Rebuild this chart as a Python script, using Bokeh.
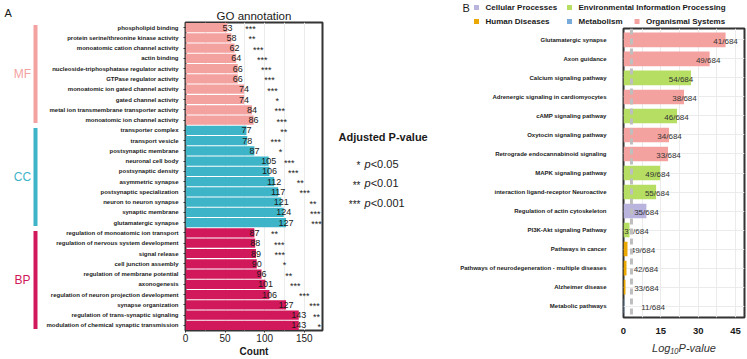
from bokeh.plotting import figure
from bokeh.models import Range1d, FixedTicker, ColumnDataSource, Span
from bokeh.layouts import row, column
from bokeh.embed import file_html
from bokeh.resources import INLINE
from bokeh.core.properties import value

FONT = "Liberation Sans"

# ---------------- Panel A data (GO annotation) ----------------
go_terms = [
    "phospholipid binding", "protein serine/threonine kinase activity",
    "monoatomic cation channel activity", "actin binding",
    "nucleoside-triphosphatase regulator activity", "GTPase regulator activity",
    "monoatomic ion gated channel activity", "gated channel activity",
    "metal ion transmembrane transporter activity", "monoatomic ion channel activity",
    "transporter complex", "transport vesicle", "postsynaptic membrane",
    "neuronal cell body", "postsynaptic density", "asymmetric synapse",
    "postsynaptic specialization", "neuron to neuron synapse", "synaptic membrane",
    "glutamatergic synapse",
    "regulation of monoatomic ion transport", "regulation of nervous system development",
    "signal release", "cell junction assembly", "regulation of membrane potential",
    "axonogenesis", "regulation of neuron projection development", "synapse organization",
    "regulation of trans-synaptic signaling", "modulation of chemical synaptic transmission",
]
go_counts = [53, 58, 62, 64, 66, 66, 74, 74, 84, 86,
             77, 78, 87, 105, 106, 112, 117, 121, 124, 127,
             87, 88, 89, 90, 96, 101, 106, 127, 143, 143]
go_groups = ["MF"] * 10 + ["CC"] * 10 + ["BP"] * 10
go_stars = ["***", "**", "***", "***", "***", "***", "***", "*", "***", "***",
            "**", "***", "*", "***", "***", "**", "***", "**", "***", "***",
            "**", "***", "***", "*", "**", "***", "***", "***", "**", "*"]
go_star_pos = [82, 84, 92, 97, 102, 106, 110, 116, 119, 121.5,
               124, 114, 120, 131, 136, 145, 150.5, 161, 164, 165.5,
               112.5, 118.5, 119, 125, 130.5, 138.5, 150, 163, 165.5, 169]
group_names = ["MF", "CC", "BP"]
group_colors = {"MF": "#F4A29F", "CC": "#3DB4C8", "BP": "#D1185A"}
count_ticks = [0, 50, 100, 150]

legend_stars = ["*", "**", "***"]
legend_thresholds = ["<0.05", "<0.01", "<0.001"]

# ---------------- Panel B data (KEGG) ----------------
kegg_terms = [
    "Glutamatergic synapse", "Axon guidance", "Calcium signaling pathway",
    "Adrenergic signaling in cardiomyocytes", "cAMP signaling pathway",
    "Oxytocin signaling pathway", "Retrograde endocannabinoid signaling",
    "MAPK signaling pathway", "interaction ligand-receptor Neuroactive",
    "Regulation of actin cytoskeleton", "PI3K-Akt signaling Pathway",
    "Pathways in cancer", "Pathways of neurodegeneration - multiple diseases",
    "Alzheimer disease", "Metabolic pathways",
]
kegg_logp = [41.0, 34.6, 27.1, 24.3, 21.5, 18.3, 17.9, 14.7, 13.1, 9.2, 2.4, 1.6, 1.2, 0.8, 0.3]
kegg_hits = [41, 49, 54, 38, 46, 34, 33, 49, 55, 35, 37, 49, 42, 33, 11]
kegg_total = 684
kegg_label_pos = [41, 34, 23.1, 24.5, 21.3, 18.5, 18.1, 13.7, 13.5, 9.2, 5.2, 7.8, 9.0, 9.2, 11.9]
kegg_class = ["Organismal Systems", "Organismal Systems", "Environmental Information Processing",
              "Organismal Systems", "Environmental Information Processing", "Organismal Systems",
              "Organismal Systems", "Environmental Information Processing",
              "Environmental Information Processing", "Cellular Processes",
              "Environmental Information Processing", "Human Diseases", "Human Diseases",
              "Human Diseases", "Metabolism"]
class_names = ["Cellular Processes", "Environmental Information Processing",
               "Human Diseases", "Metabolism", "Organismal Systems"]
class_colors = {"Cellular Processes": "#B8B4DD",
                "Environmental Information Processing": "#B5DE62",
                "Human Diseases": "#EBA800",
                "Metabolism": "#78ABDA",
                "Organismal Systems": "#F4A29F"}
threshold = 3.2
logp_ticks = [0, 15, 30, 45]

TXT = "#1a1a1a"
GRID = "#EBEBEB"
FRAME = "#333333"

# ================= Panel A =================
n = len(go_terms)
go_y = [n - i for i in range(n)]
yr_a = Range1d(0.5, n + 0.5)

src_a = ColumnDataSource(dict(
    y=go_y, count=go_counts, label=[str(c) for c in go_counts],
    color=[group_colors[g] for g in go_groups], stars=go_stars, star_x=go_star_pos))

pa = figure(width=287, height=359, x_range=Range1d(0, 173), y_range=yr_a,
            output_backend="svg", toolbar_location=None, title="GO annotation",
            min_border_left=145, min_border_right=5, min_border_top=22, min_border_bottom=28)
pa.frame_align = False
pa.title.align = "center"
pa.title.text_font = FONT
pa.title.text_font_size = "11.5px"
pa.title.text_font_style = "normal"
pa.title.text_color = TXT
pa.title.standoff = 2
pa.title.offset = -6
pa.outline_line_color = FRAME
pa.outline_line_width = 2

pa.hbar(y="y", left=0, right="count", height=0.9, fill_color="color",
        line_color=None, source=src_a)
pa.text(x="count", y="y", text="label", text_align="center", text_baseline="middle",
        text_font=value(FONT), text_font_size="9px", text_color=TXT, source=src_a)
pa.text(x="star_x", y="y", text="stars", text_align="center", text_baseline="middle",
        y_offset=1.5, text_font=value(FONT), text_font_size="9px", text_color=TXT,
        source=src_a)

pa.xgrid.ticker = FixedTicker(ticks=[25, 50, 75, 100, 125, 150, 175])
pa.xgrid.grid_line_color = GRID
pa.ygrid.visible = False

pa.xaxis.ticker = FixedTicker(ticks=count_ticks)
pa.xaxis.axis_label = "Count"
pa.xaxis.axis_label_text_font = FONT
pa.xaxis.axis_label_text_font_style = "bold"
pa.xaxis.axis_label_text_font_size = "10px"
pa.xaxis.axis_label_text_color = TXT
pa.xaxis.axis_label_standoff = 1
pa.xaxis.major_label_text_font = FONT
pa.xaxis.major_label_text_font_size = "10px"
pa.xaxis.major_label_text_color = TXT
pa.xaxis.major_label_standoff = 1
pa.xaxis.major_tick_out = 2
pa.xaxis.major_tick_in = 0
pa.xaxis.minor_tick_line_color = None
pa.xaxis.axis_line_color = None
pa.xaxis.major_tick_line_color = FRAME

pa.yaxis.ticker = FixedTicker(ticks=go_y)
pa.yaxis.major_label_overrides = {y: t for y, t in zip(go_y, go_terms)}
pa.yaxis.major_label_text_font = FONT
pa.yaxis.major_label_text_font_style = "bold"
pa.yaxis.major_label_text_font_size = "6px"
pa.yaxis.major_label_text_color = TXT
pa.yaxis.major_label_standoff = 5
pa.yaxis.major_tick_out = 2
pa.yaxis.major_tick_in = 0
pa.yaxis.major_tick_line_color = FRAME
pa.yaxis.minor_tick_line_color = None
pa.yaxis.axis_line_color = None

# ================= Group strip (MF / CC / BP) =================
pg = figure(width=40, height=359, x_range=Range1d(0, 40), y_range=yr_a,
            output_backend="svg", toolbar_location=None, title="A",
            x_axis_type=None, y_axis_type=None,
            min_border_left=0, min_border_right=0, min_border_top=22, min_border_bottom=28)
pg.frame_align = False
pg.title.align = "left"
pg.title.offset = 4
pg.title.standoff = 8
pg.title.text_font = FONT
pg.title.text_font_size = "11px"
pg.title.text_font_style = "normal"
pg.title.text_color = TXT
pg.outline_line_color = None
pg.grid.visible = False

g_top, g_bot, g_mid, g_col = [], [], [], []
for g in group_names:
    ys = [y for y, gg in zip(go_y, go_groups) if gg == g]
    g_top.append(max(ys) + 0.25)
    g_bot.append(min(ys) - 0.25)
    g_mid.append((max(ys) + min(ys)) / 2)
    g_col.append(group_colors[g])
src_g = ColumnDataSource(dict(top=g_top, bottom=g_bot, mid=g_mid, color=g_col, name=group_names))
pg.quad(left=33, right=37, top="top", bottom="bottom", fill_color="color",
        line_color=None, source=src_g)
pg.text(x=22, y="mid", text="name", text_align="center", text_baseline="middle",
        text_color="color", text_font=value(FONT), text_font_size="12px", source=src_g)

# ================= Middle: adjusted p-value key =================
pm = figure(width=130, height=359, x_range=Range1d(0, 130), y_range=Range1d(359, 0),
            output_backend="svg", toolbar_location=None,
            x_axis_type=None, y_axis_type=None, min_border=0)
pm.frame_align = False
pm.outline_line_color = None
pm.grid.visible = False
pm.text(x=[11], y=[136], text=["Adjusted P-value"], text_baseline="middle",
        text_font=value(FONT), text_font_size="11px", text_font_style="bold", text_color=TXT)
key_y = [163 + 19.5 * i for i in range(len(legend_stars))]
pm.text(x=[33] * 3, y=key_y, text=legend_stars, text_align="right", text_baseline="middle",
        y_offset=2, text_font=value(FONT), text_font_size="10px", text_color=TXT)
pm.text(x=[37] * 3, y=key_y, text=["p"] * 3, text_baseline="middle",
        text_font=value(FONT), text_font_size="11px", text_font_style="italic", text_color=TXT)
pm.text(x=[43.2] * 3, y=key_y, text=legend_thresholds, text_baseline="middle",
        text_font=value(FONT), text_font_size="11px", text_color=TXT)

# ================= Panel B legend =================
pl = figure(width=290, height=26, x_range=Range1d(0, 290), y_range=Range1d(26, 0),
            output_backend="svg", toolbar_location=None,
            x_axis_type=None, y_axis_type=None, min_border=0)
pl.frame_align = False
pl.outline_line_color = None
pl.grid.visible = False
pl.text(x=[5], y=[7], text=["B"], text_baseline="middle", text_font=value(FONT),
        text_font_size="11px", text_color=TXT)
leg_sq_x = [19, 112, 19, 112, 179.5]
leg_y = [7, 7, 21, 21, 21]
src_l = ColumnDataSource(dict(x=leg_sq_x, tx=[x + 9 for x in leg_sq_x], y=leg_y,
                              name=class_names, color=[class_colors[c] for c in class_names]))
pl.scatter(x="x", y="y", marker="square", size=5, fill_color="color", line_color=None,
           source=src_l)
pl.text(x="tx", y="y", text="name", text_baseline="middle", text_font=value(FONT),
        text_font_size="8px", text_font_style="bold", text_color=TXT, source=src_l)

# ================= Panel B =================
m = len(kegg_terms)
kegg_y = [m - i for i in range(m)]
src_b = ColumnDataSource(dict(
    y=kegg_y, v=kegg_logp, lx=kegg_label_pos,
    label=[f"{h}/{kegg_total}" for h in kegg_hits],
    color=[class_colors[c] for c in kegg_class]))

pb = figure(width=290, height=333, x_range=Range1d(0, 48.6), y_range=Range1d(0.4, m + 0.6),
            output_backend="svg", toolbar_location=None,
            min_border_left=165, min_border_right=3, min_border_top=2, min_border_bottom=42)
pb.frame_align = False
pb.outline_line_color = FRAME
pb.outline_line_width = 2

pb.hbar(y="y", left=0, right="v", height=0.77, fill_color="color", line_color=None,
        source=src_b)
pb.add_layout(Span(location=threshold, dimension="height", line_color="#BEBEBE",
                   line_width=3, line_dash="6 4"))
pb.text(x="lx", y="y", text="label", text_align="center", text_baseline="middle",
        y_offset=1.5, text_font=value(FONT), text_font_size="8px", text_color="#333333",
        source=src_b)

pb.xgrid.ticker = FixedTicker(ticks=[7.5, 15, 22.5, 30, 37.5, 45])
pb.xgrid.grid_line_color = GRID
pb.ygrid.ticker = FixedTicker(ticks=kegg_y)
pb.ygrid.grid_line_color = GRID

pb.xaxis.ticker = FixedTicker(ticks=logp_ticks)
pb.xaxis.axis_label = "Log\u2081\u2080P-value"
pb.xaxis.axis_label_text_font = FONT
pb.xaxis.axis_label_text_font_style = "italic"
pb.xaxis.axis_label_text_font_size = "11px"
pb.xaxis.axis_label_text_color = "#333333"
pb.xaxis.axis_label_standoff = 5
pb.xaxis.major_label_text_font = FONT
pb.xaxis.major_label_text_font_style = "bold"
pb.xaxis.major_label_text_font_size = "9.5px"
pb.xaxis.major_label_text_color = TXT
pb.xaxis.major_label_standoff = 7
pb.xaxis.major_tick_out = 3
pb.xaxis.major_tick_in = 0
pb.xaxis.major_tick_line_color = None
pb.xaxis.minor_tick_line_color = None
pb.xaxis.axis_line_color = None

pb.yaxis.ticker = FixedTicker(ticks=kegg_y)
pb.yaxis.major_label_overrides = {y: t for y, t in zip(kegg_y, kegg_terms)}
pb.yaxis.major_label_text_font = FONT
pb.yaxis.major_label_text_font_style = "bold"
pb.yaxis.major_label_text_font_size = "6px"
pb.yaxis.major_label_text_color = TXT
pb.yaxis.major_label_standoff = 15
pb.yaxis.major_tick_out = 2
pb.yaxis.major_tick_in = 0
pb.yaxis.major_tick_line_color = None
pb.yaxis.minor_tick_line_color = None
pb.yaxis.axis_line_color = None

layout = row(pg, pa, pm, column(pl, pb, spacing=0), spacing=0)

open("out.html", "w").write(file_html(layout, INLINE, title="GO and KEGG"))
